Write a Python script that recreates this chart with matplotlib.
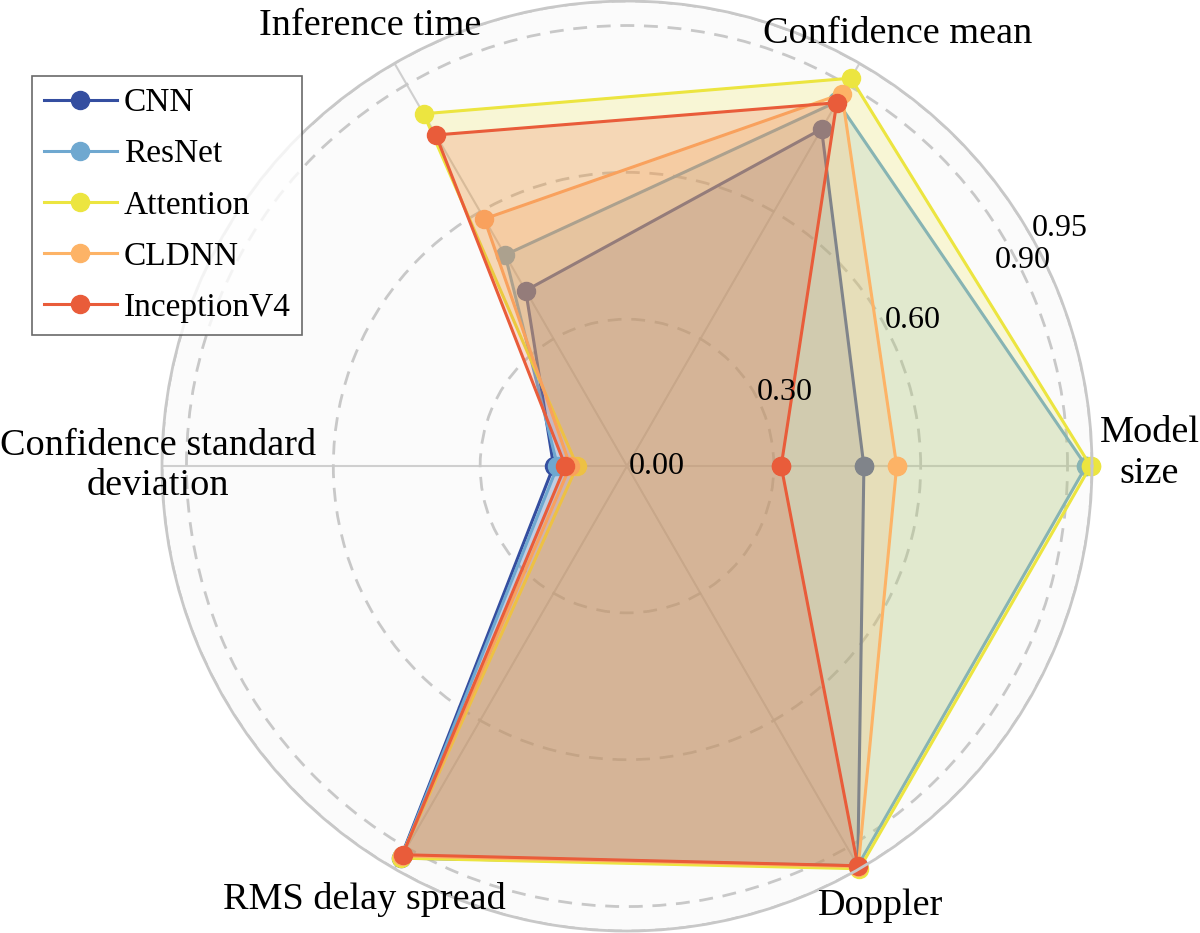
import matplotlib.pyplot as plt
import numpy as np

plt.rcParams['font.family'] = ['Liberation Serif', 'DejaVu Serif']

categories = ['Model\nsize', 'Confidence mean', 'Inference time',
              'Confidence standard\ndeviation', 'RMS delay spread', 'Doppler']
models = ['CNN', 'ResNet', 'Attention', 'CLDNN', 'InceptionV4']
cnn = [0.484, 0.795, 0.414, 0.150, 0.925, 0.943]
resnet = [0.938, 0.860, 0.498, 0.142, 0.920, 0.943]
attention = [0.947, 0.915, 0.831, 0.102, 0.925, 0.950]
cldnn = [0.551, 0.878, 0.583, 0.116, 0.920, 0.945]
inception = [0.315, 0.857, 0.781, 0.126, 0.917, 0.943]
r_ticks = [0.0, 0.30, 0.60, 0.90, 0.95]

colors = ['#344ea0', '#6fa8d0', '#ece540', '#fdb366', '#e95c3a']
series = [cnn, resnet, attention, cldnn, inception]

angles = np.linspace(0, 2 * np.pi, len(categories), endpoint=False)
angles_closed = np.append(angles, angles[0])

fig = plt.figure(figsize=(12, 9.33), dpi=100)
ax = fig.add_axes([0.135, 0.002, 0.775, 0.997], polar=True)
ax.set_facecolor('#fbfbfb')
ax.set_axisbelow(True)

# same zorder so each fill covers the earlier series
for name, vals, c in zip(models, series, colors):
    v = np.append(vals, vals[0])
    ax.plot(angles_closed, v, color=c, lw=2.2, marker='o', markersize=13,
            label=name, clip_on=False, zorder=2)
    ax.fill(angles_closed, v, color=c, alpha=0.2, zorder=2)

ax.set_ylim(0, 0.95)
ax.set_yticks(r_ticks)
ax.set_yticklabels([])
ax.yaxis.grid(True, color='#c8c8c8', lw=2, ls=(0, (5, 3.5)))
ax.xaxis.grid(True, color='#cfcfcf', lw=1.5)
ax.spines['polar'].set_color('#c8c8c8')
ax.spines['polar'].set_linewidth(2)

# radial labels on top of the fills
rlab_theta = [0.0, 24.8, 27.0, 27.5, 28.8]
rlab_r = [0.061, 0.356, 0.656, 0.911, 1.009]
for t, th, r in zip(r_ticks, rlab_theta, rlab_r):
    ax.text(np.deg2rad(th), r, '%.2f' % t, fontsize=23, ha='center',
            va='center', zorder=10, clip_on=False)

ax.set_xticks(angles)
ax.set_xticklabels([])
lab_theta = [1.4, 58.0, 120.3, 180.0, 238.8, 300.0]
lab_r = [1.068, 1.042, 1.041, 0.958, 1.035, 1.037]
for th, r, lab in zip(lab_theta, lab_r, categories):
    ax.text(np.deg2rad(th), r, lab, fontsize=27.5, ha='center', va='center',
            linespacing=1.22, clip_on=False)

leg = fig.legend(loc='upper left', bbox_to_anchor=(0.0267, 0.9185),
                 fontsize=24, frameon=True, fancybox=False,
                 handlelength=2.2, handletextpad=0.2, labelspacing=0.62,
                 borderpad=0.35, borderaxespad=0, markerscale=1.0)
leg.get_frame().set_edgecolor('#444444')
leg.get_frame().set_linewidth(1.2)

fig.savefig('out.png', dpi=100)
